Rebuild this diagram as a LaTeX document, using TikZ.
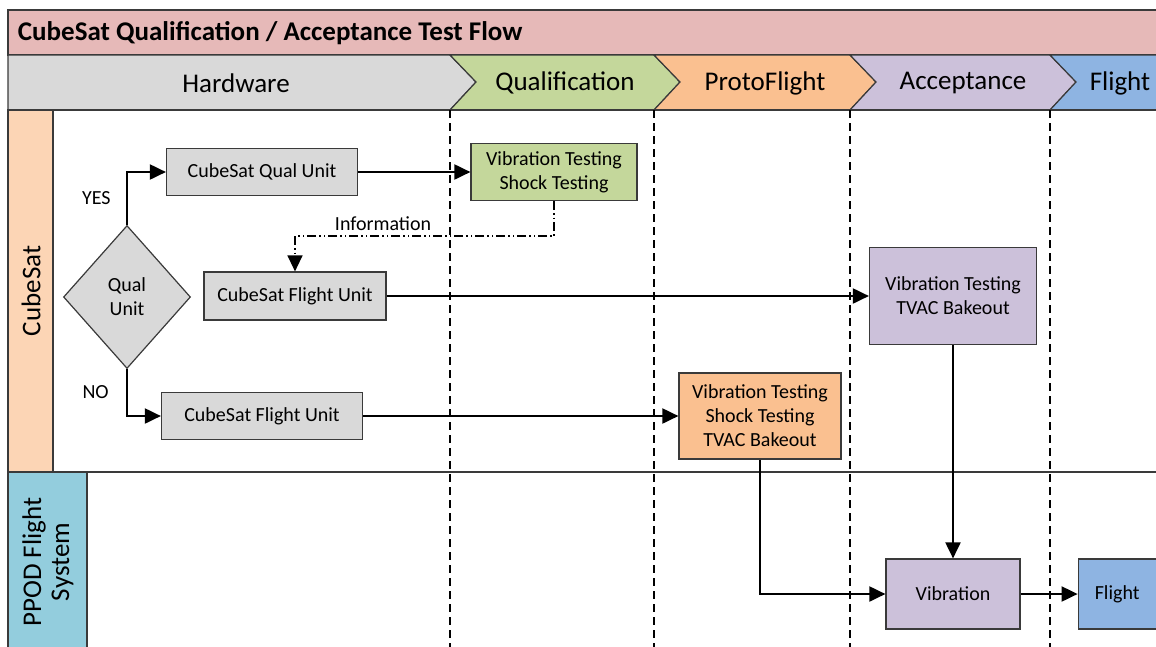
\documentclass[tikz,border=0pt]{standalone}
\usepackage{fontspec}
\setmainfont{Carlito}
\usetikzlibrary{positioning,shapes.geometric,arrows.meta}
\definecolor{titlepink}{HTML}{E6B9B8}
\definecolor{hwgray}{HTML}{D9D9D9}
\definecolor{qualgreen}{HTML}{C4D79B}
\definecolor{protoorange}{HTML}{FAC090}
\definecolor{accpurple}{HTML}{CCC1DA}
\definecolor{flightblue}{HTML}{8EB4E2}
\definecolor{cubepeach}{HTML}{FCD5B5}
\definecolor{ppodblue}{HTML}{93CDDD}
\definecolor{edgegray}{HTML}{3A3A3A}

\begin{document}
\begin{tikzpicture}[x=1pt,y=-1pt,line width=1.2pt,
    unitbox/.style={draw=edgegray,line width=1.2pt,inner sep=0pt,align=center,font=\fontsize{20}{24}\selectfont},
    phase/.style={draw=edgegray,line width=1.2pt},
    arr/.style={line width=2pt,-{Triangle[length=16pt,width=15pt]}},
    infoline/.style={line width=1.3pt,dash pattern=on 9pt off 3pt on 1.5pt off 3pt on 1.5pt off 3pt,-{Triangle[length=16pt,width=15pt]}},
    lanetxt/.style={rotate=90,align=center,font=\fontsize{27}{28}\selectfont},
    headtxt/.style={font=\fontsize{27}{30}\selectfont},
    small/.style={font=\fontsize{20}{22}\selectfont}]
                \clip (0,0) rectangle (1156,646);
                \draw[phase,fill=titlepink] (8,10) rectangle (1180,55);
                \node[anchor=west,font=\bfseries\fontsize{27}{30}\selectfont] (title) at (14,33) {CubeSat Qualification / Acceptance Test Flow};
                \draw[phase,fill=hwgray] (8,55) -- (450,55) -- (476,82) -- (450,110) -- (8,110) -- cycle;
                \draw[phase,fill=qualgreen] (450,55) -- (654,55) -- (680,82) -- (654,110) -- (450,110) -- (476,82) -- cycle;
                \draw[phase,fill=protoorange] (654,55) -- (850,55) -- (876,82) -- (850,110) -- (654,110) -- (680,82) -- cycle;
                \draw[phase,fill=accpurple] (850,55) -- (1050,55) -- (1076,82) -- (1050,110) -- (850,110) -- (876,82) -- cycle;
                \draw[phase,fill=flightblue] (1050,55) -- (1180,55) -- (1180,110) -- (1050,110) -- (1076,82) -- cycle;
                \node[headtxt] (hw) at (236,83) {Hardware};
                \node[headtxt] (ql) at (565,83) {Qualification};
                \node[headtxt] (pf) at (765,83) {ProtoFlight};
                \node[headtxt] (ac) at (963,83) {Acceptance};
                \node[headtxt] (fl) at (1120,83) {Flight};
                \draw[phase,fill=cubepeach] (8,110) rectangle (53,472);
                \draw[phase,fill=ppodblue] (8,472) rectangle (87,660);
                \draw[phase] (53,110) -- (1180,110);
                \draw[phase] (53,472) -- (1180,472);
                \node[lanetxt] (cubesat) at (31,291) {CubeSat};
                \node[lanetxt] (ppod) at (48,562) {PPOD Flight\\System};
                \foreach \x in {450,654,850,1050}
                    \draw[line width=2pt,dash pattern=on 8pt off 5pt] (\x,110) -- (\x,660);
                \node[unitbox,shape=diamond,fill=hwgray,minimum width=127pt,minimum height=143pt] (qual) at (127,297) {Qual\\Unit};
                \node[unitbox,fill=hwgray,minimum width=191pt,minimum height=47pt] (qualunit) at (262,172) {CubeSat Qual Unit};
                \node[unitbox,fill=hwgray,minimum width=182pt,minimum height=48pt] (flightA) at (295,296) {CubeSat Flight Unit};
                \node[unitbox,fill=hwgray,minimum width=201pt,minimum height=47pt] (flightB) at (262,416) {CubeSat Flight Unit};
                \node[unitbox,fill=qualgreen,minimum width=166pt,minimum height=57pt] (qtest) at (554,172) {Vibration Testing\\Shock Testing};
                \node[unitbox,fill=accpurple,minimum width=167pt,minimum height=97pt] (atest) at (953,296) {Vibration Testing\\TVAC Bakeout};
                \node[unitbox,fill=protoorange,minimum width=162pt,minimum height=86pt] (ptest) at (760,416) {Vibration Testing\\Shock Testing\\TVAC Bakeout};
                \node[unitbox,fill=accpurple,minimum width=134pt,minimum height=70pt] (vib) at (953,594) {Vibration};
                \node[unitbox,fill=flightblue,minimum width=78pt,minimum height=70pt,right=57pt of vib] (flt) {Flight};
                \draw[arr] (qual.north) |- node[pos=0.25,left=12pt,small] {YES} (qualunit.west);
                \draw[arr] (qual.south) |- node[pos=0.25,left=14pt,small] {NO} (flightB.west);
                \draw[arr] (qualunit.east) -- (qtest.west);
                \draw[infoline] (qtest.south) -- ++(0,35) -| node[pos=0.33,above=1pt,small] {Information} (flightA.north);
                \draw[arr] (flightA.east) -- (atest.west);
                \draw[arr] (flightB.east) -- (ptest.west);
                \draw[arr] (ptest.south) |- (vib.west);
                \draw[arr] (atest.south) -- (vib.north);
                \draw[arr] (vib.east) -- (flt.west);
            \end{tikzpicture}
\end{document}
